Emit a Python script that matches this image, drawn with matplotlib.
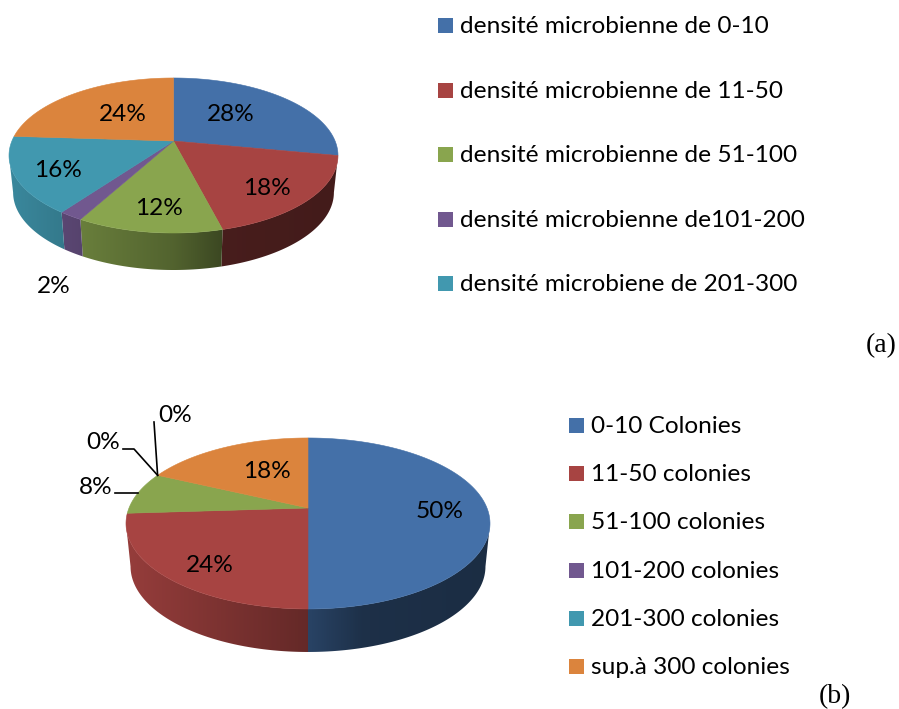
import numpy as np
import matplotlib
matplotlib.use("Agg")
import matplotlib.pyplot as plt
from matplotlib.patches import Polygon, Rectangle

plt.rcParams["font.family"] = ["Lato", "DejaVu Sans"]

## data
values_a = [28, 18, 12, 2, 16, 24]
values_b = [50, 24, 8, 0, 0, 18]
legend_a = [
    "densité microbienne de 0-10",
    "densité microbienne de 11-50",
    "densité microbienne de 51-100",
    "densité microbienne de101-200",
    "densité microbiene de 201-300",
]
legend_b = [
    "0-10 Colonies",
    "11-50 colonies",
    "51-100 colonies",
    "101-200 colonies",
    "201-300 colonies",
    "sup.à 300 colonies",
]
colors = ["#4470A8", "#A74442", "#89A54E", "#71588F", "#4198AF", "#DB843D"]

LABEL_SIZE = 17.6

fig = plt.figure(figsize=(8.99, 7.09), dpi=100)
ax = fig.add_axes([0, 0, 1, 1])
ax.set_xlim(0, 899)
ax.set_ylim(709, 0)
ax.set_autoscale_on(False)
ax.axis("off")


def project(theta, cx, cy, rx, ry, k, depth=0.0, shrink=1.0):
    # unit circle -> screen, with a little perspective (front of the pie is bigger)
    u = np.sin(theta)
    v = -np.cos(theta)
    s = 1.0 / (1.0 - k * v)
    return cx + rx * shrink * u * s, cy + ry * v * s + depth


def shade(u):
    # the side wall gets darker towards the right
    return np.interp(u, [-1.0, 0.0, 0.3, 1.0], [0.9, 0.6, 0.43, 0.4])


def draw_pie(values, cx, cy, rx, ry, k, depth):
    fracs = np.cumsum([0] + list(values)) / float(sum(values))
    angles = 2 * np.pi * fracs
    x_left, x_right = cx - rx * 1.03, cx + rx * 1.03
    top, bottom = cy - ry * 1.3, cy + ry * 1.3 + depth
    ramp = shade(np.linspace(-1, 1, 400))

    # only the front of the wall shows: between the two widest points of the ellipse
    th_min = np.arccos(-k)
    th_max = 2 * np.pi - th_min

    # side wall first: a horizontal gradient clipped to each slice's wall
    for i in range(len(values)):
        a = max(angles[i], th_min)
        b = min(angles[i + 1], th_max)
        if values[i] == 0 or b <= a:
            continue
        th = np.linspace(a, b, 120)
        x1, y1 = project(th, cx, cy, rx, ry, k)
        x2, y2 = project(th[::-1], cx, cy, rx, ry, k, depth, 0.975)
        wall = Polygon(np.column_stack([np.r_[x1, x2], np.r_[y1, y2]]), closed=True,
                       transform=ax.transData, fc="none", ec="none")
        rgb = np.array(matplotlib.colors.to_rgb(colors[i]))
        img = np.clip(ramp[None, :, None] * rgb[None, None, :], 0, 1)
        im = ax.imshow(img, extent=(x_left, x_right, bottom, top), aspect="auto",
                       interpolation="bilinear", zorder=0.1)
        ax.add_patch(wall)
        im.set_clip_path(wall)

    # top face
    for i, col in enumerate(colors):
        if values[i] == 0:
            continue
        th = np.linspace(angles[i], angles[i + 1], 120)
        x, y = project(th, cx, cy, rx, ry, k)
        ax.add_patch(Polygon(np.column_stack([np.r_[cx, x], np.r_[cy, y]]),
                             closed=True, fc=col, ec=col, lw=0.4, zorder=2))
    return angles


def draw_legend(labels, x, ys):
    for lab, col, y in zip(labels, colors, ys):
        ax.add_patch(Rectangle((x, y - 7.5), 15, 15, fc=col, ec="none"))
        ax.text(x + 22, y + 1.5, lab, fontsize=LABEL_SIZE, va="center", ha="left", color="black")


def pct(x, y, val):
    ax.text(x, y + 1.5, "%d%%" % val, fontsize=LABEL_SIZE, ha="center", va="center",
            color="black", zorder=5)


################################################################################
## (a)
################################################################################
draw_pie(values_a, 173.5, 141, 161.6, 74.8, 0.187, 37)
for v, (x, y) in zip(values_a, [(230, 113), (266, 187), (158, 207), (53, 285), (57, 169), (122, 113)]):
    pct(x + 1, y, v)
draw_legend(legend_a, 438, [25, 90, 154, 219, 283])
ax.text(897, 346, "(a)", family="Liberation Serif", fontsize=20, ha="right", va="center")

################################################################################
## (b)
################################################################################
cfg_b = (308, 508, 179, 82.7, 0.181)
ang_b = draw_pie(values_b, *cfg_b, 43)
for v, (x, y) in zip(values_b, [(439, 510), (209, 564), (95, 486), (102, 441), (174, 414), (266, 470)]):
    pct(x + 1, y, v)
draw_legend(legend_b, 569, [425, 473, 521, 570, 618, 666])
ax.text(851, 697, "(b)", family="Liberation Serif", fontsize=20, ha="right", va="center")

# leader lines for the outside labels, ending on the slice edge
x8, y8 = project((ang_b[2] + ang_b[3]) / 2, *cfg_b)
ax.plot([115, x8], [y8, y8], color="black", lw=1.2, zorder=4)
x0, y0 = project(ang_b[4], *cfg_b)
ax.plot([123, 134, x0], [449, 449, y0], color="black", lw=1.2, zorder=4)
ax.plot([154, x0], [422, y0], color="black", lw=1.2, zorder=4)

fig.savefig("out.png", dpi=100, facecolor="white")
